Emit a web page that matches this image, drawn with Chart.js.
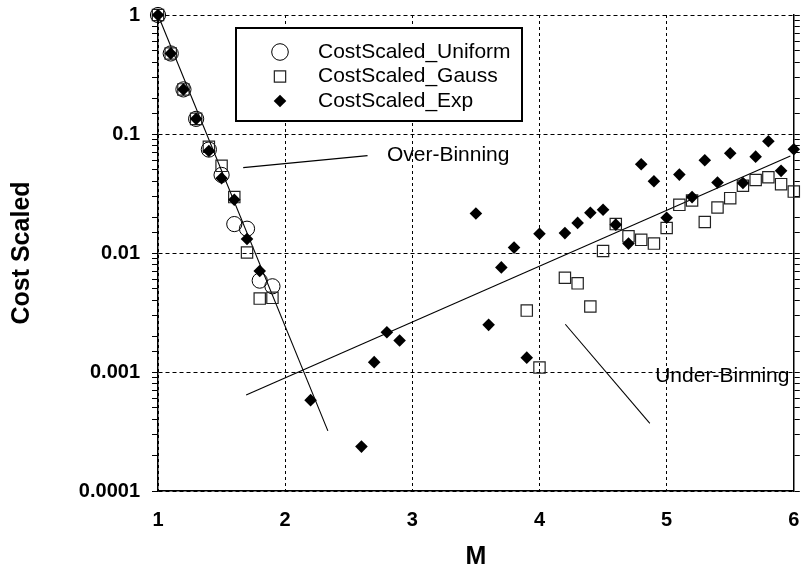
<!DOCTYPE html>
<html lang="en">
<head>
    <meta charset="UTF-8">
    <title>Cost Scaled vs M</title>
    <script src="https://cdn.jsdelivr.net/npm/chart.js"></script>
    <style>
        html, body { margin: 0; padding: 0; background: #fff; }
        #wrap { width: 803px; height: 570px; }
    </style>
</head>
<body>
    <div id="wrap"><canvas id="cost-chart" width="803" height="570"></canvas></div>

    <script>
        // Data
        const uniformM    = [1.0, 1.1, 1.2, 1.3, 1.4, 1.5, 1.6, 1.7, 1.8, 1.9];
        const uniformCost = [1.0, 0.475, 0.237, 0.134, 0.074, 0.0453, 0.0175, 0.016, 0.00586, 0.00525];

        const gaussM    = [1.0, 1.1, 1.2, 1.3, 1.4, 1.5, 1.6, 1.7, 1.8, 1.9,
                           3.9, 4.0, 4.2, 4.3, 4.4, 4.5, 4.6, 4.7, 4.8, 4.9, 5.0,
                           5.1, 5.2, 5.3, 5.4, 5.5, 5.6, 5.7, 5.8, 5.9, 6.0];
        const gaussCost = [1.0, 0.475, 0.237, 0.134, 0.078, 0.054, 0.0295, 0.0101, 0.00414, 0.0042,
                           0.00328, 0.00109, 0.0062, 0.00556, 0.00355, 0.0104, 0.0175, 0.0138, 0.0129, 0.0120, 0.0162,
                           0.0254, 0.0276, 0.0182, 0.0241, 0.0289, 0.0367, 0.0411, 0.0433, 0.0379, 0.0328];

        const expM    = [1.0, 1.1, 1.2, 1.3, 1.4, 1.5, 1.6, 1.7, 1.8,
                         2.2, 2.6, 2.7, 2.8, 2.9,
                         3.5, 3.6, 3.7, 3.8, 3.9, 4.0,
                         4.2, 4.3, 4.4, 4.5, 4.6, 4.7, 4.8, 4.9, 5.0,
                         5.1, 5.2, 5.3, 5.4, 5.5, 5.6, 5.7, 5.8, 5.9, 6.0];
        const expCost = [1.0, 0.475, 0.237, 0.134, 0.072, 0.0425, 0.028, 0.0131, 0.00706,
                         0.00058, 0.000236, 0.00121, 0.00216, 0.00184,
                         0.0215, 0.00249, 0.00757, 0.0111, 0.00132, 0.0145,
                         0.0147, 0.0179, 0.0218, 0.0231, 0.0173, 0.0120, 0.0557, 0.0401, 0.0198,
                         0.0456, 0.0295, 0.0602, 0.0391, 0.0689, 0.0388, 0.0645, 0.0868, 0.049, 0.0744];

        // fitted trend lines (end points)
        const overFitM     = [1.0, 2.336];
        const overFitCost  = [1.0, 0.00032];
        const underFitM    = [1.693, 5.973];
        const underFitCost = [0.00064, 0.0654];

        // annotation pointer lines and labels
        const overPointerM     = [1.670, 2.648];
        const overPointerCost  = [0.0522, 0.0658];
        const underPointerM    = [4.203, 4.868];
        const underPointerCost = [0.00252, 0.00037];
        const noteTexts = ['Over-Binning', 'Under-Binning'];
        const noteM     = [2.80, 4.91];
        const noteCost  = [0.0667, 0.000916];

        const xTicks      = [1, 2, 3, 4, 5, 6];
        const yTickValues = [0.0001, 0.001, 0.01, 0.1, 1];
        const yTickLabels = ['0.0001', '0.001', '0.01', '0.1', '1'];

        const fontFamily = "'Liberation Sans', Arial, Helvetica, sans-serif";

        function toPoints(xs, ys) {
            return xs.map((x, i) => ({ x: x, y: ys[i] }));
        }

        function isDecade(v) {
            const l = Math.log10(v);
            return Math.abs(l - Math.round(l)) < 1e-6;
        }

        function lineDataset(xs, ys) {
            return {
                label: '',
                data: toPoints(xs, ys),
                showLine: true,
                borderColor: '#000',
                borderWidth: 1.1,
                pointRadius: 0,
                fill: false,
                clip: false,
                order: 5
            };
        }

        // draw a legend marker in the same style as the dataset
        function drawMarker(ctx, ds, x, y) {
            ctx.save();
            ctx.lineWidth = ds.borderWidth || 1;
            ctx.strokeStyle = ds.borderColor;
            ctx.fillStyle = ds.backgroundColor;
            const r = ds.pointRadius;
            ctx.beginPath();
            if (ds.pointStyle === 'circle') {
                ctx.arc(x, y, r + 0.7, 0, Math.PI * 2);
                ctx.stroke();
            } else if (ds.pointStyle === 'rect') {
                const s = Math.SQRT1_2 * r;
                ctx.rect(x - s, y - s, 2 * s, 2 * s);
                ctx.stroke();
            } else {
                ctx.moveTo(x, y - r);
                ctx.lineTo(x + r, y);
                ctx.lineTo(x, y + r);
                ctx.lineTo(x - r, y);
                ctx.closePath();
                ctx.fill();
            }
            ctx.restore();
        }

        // boxed legend + text notes
        const notesAndLegend = {
            id: 'notesAndLegend',
            afterDraw(chart) {
                const ctx = chart.ctx;
                const area = chart.chartArea;
                const xs = chart.scales.x, ys = chart.scales.y;

                ctx.save();
                ctx.fillStyle = '#000';
                ctx.font = '21px ' + fontFamily;
                ctx.textAlign = 'left';
                ctx.textBaseline = 'middle';
                noteTexts.forEach((t, i) => {
                    ctx.fillText(t, xs.getPixelForValue(noteM[i]), ys.getPixelForValue(noteCost[i]));
                });

                const boxX = area.left + 78, boxY = area.top + 13, boxW = 286, boxH = 93;
                ctx.fillStyle = '#fff';
                ctx.fillRect(boxX, boxY, boxW, boxH);
                ctx.lineWidth = 2;
                ctx.strokeStyle = '#000';
                ctx.strokeRect(boxX, boxY, boxW, boxH);

                const entries = chart.data.datasets.filter(d => d.label);
                entries.forEach((ds, i) => {
                    const rowY = boxY + 24 + i * 24.5;
                    drawMarker(ctx, ds, boxX + 44, rowY);
                    ctx.fillStyle = '#000';
                    ctx.font = '21px ' + fontFamily;
                    ctx.fillText(ds.label, boxX + 82, rowY);
                });
                ctx.restore();
            }
        };

        const ctx = document.getElementById('cost-chart').getContext('2d');
        new Chart(ctx, {
            type: 'scatter',
            data: {
                datasets: [
                    {
                        label: 'CostScaled_Uniform',
                        data: toPoints(uniformM, uniformCost),
                        pointStyle: 'circle',
                        pointRadius: 7.6,
                        borderColor: '#000',
                        borderWidth: 1,
                        backgroundColor: 'rgba(0,0,0,0)',
                        clip: false,
                        order: 3
                    },
                    {
                        label: 'CostScaled_Gauss',
                        data: toPoints(gaussM, gaussCost),
                        pointStyle: 'rect',
                        pointRadius: 8,
                        borderColor: '#222',
                        borderWidth: 1.2,
                        backgroundColor: 'rgba(0,0,0,0)',
                        clip: false,
                        order: 2
                    },
                    {
                        label: 'CostScaled_Exp',
                        data: toPoints(expM, expCost),
                        pointStyle: 'rectRot',
                        pointRadius: 6.3,
                        borderColor: '#000',
                        borderWidth: 0,
                        backgroundColor: '#000',
                        clip: false,
                        order: 1
                    },
                    lineDataset(overFitM, overFitCost),
                    lineDataset(underFitM, underFitCost),
                    lineDataset(overPointerM, overPointerCost),
                    lineDataset(underPointerM, underPointerCost)
                ]
            },
            options: {
                responsive: false,
                animation: false,
                events: [],
                layout: { padding: { top: 15, left: 0, right: 0, bottom: 0 } },
                plugins: {
                    legend: { display: false },
                    tooltip: { enabled: false }
                },
                scales: {
                    x: {
                        type: 'linear',
                        position: 'bottom',
                        min: 1,
                        max: 6,
                        afterBuildTicks: scale => { scale.ticks = xTicks.map(v => ({ value: v })); },
                        afterFit: scale => {
                            scale.height = 79;
                            scale.paddingLeft = 0;
                            scale.paddingRight = 0;
                        },
                        ticks: {
                            color: '#000',
                            padding: 17,
                            font: { family: fontFamily, size: 20, weight: 'bold' }
                        },
                        grid: { color: '#000', lineWidth: 1, drawTicks: false },
                        border: { display: true, color: '#000', width: 1.5, dash: [3, 3] },
                        title: {
                            display: true,
                            text: 'M',
                            color: '#000',
                            padding: { top: 0, bottom: 0 },
                            font: { family: fontFamily, size: 25, weight: 'bold', lineHeight: 1 }
                        }
                    },
                    y: {
                        type: 'logarithmic',
                        position: 'left',
                        min: 0.0001,
                        max: 1,
                        afterFit: scale => {
                            scale.width = 158;
                            scale.paddingTop = 0;
                            scale.paddingBottom = 0;
                        },
                        ticks: {
                            autoSkip: false,
                            color: '#000',
                            padding: 12,
                            font: { family: fontFamily, size: 20, weight: 'bold' },
                            callback: value => {
                                const i = yTickValues.findIndex(t => Math.abs(t - value) / t < 1e-6);
                                return i >= 0 ? yTickLabels[i] : '';
                            }
                        },
                        grid: {
                            color: c => (c.tick && isDecade(c.tick.value)) ? '#000' : 'rgba(0,0,0,0)',
                            lineWidth: 1,
                            tickColor: '#000',
                            tickLength: 6,
                            tickWidth: 1
                        },
                        border: { display: true, color: '#000', width: 1.5, dash: [4, 3] },
                        title: {
                            display: true,
                            text: 'Cost Scaled',
                            color: '#000',
                            padding: { top: 9.5, bottom: 0 },
                            font: { family: fontFamily, size: 25, weight: 'bold', lineHeight: 1 }
                        }
                    },
                    y2: {
                        type: 'logarithmic',
                        position: 'right',
                        min: 0.0001,
                        max: 1,
                        afterFit: scale => {
                            scale.width = 6;
                            scale.paddingTop = 0;
                            scale.paddingBottom = 0;
                        },
                        ticks: { display: false, autoSkip: false },
                        grid: {
                            drawOnChartArea: false,
                            tickColor: '#000',
                            tickLength: 6,
                            tickWidth: 1
                        },
                        border: { display: true, color: '#000', width: 1.5 }
                    }
                }
            },
            plugins: [notesAndLegend]
        });
    </script>
</body>
</html>
